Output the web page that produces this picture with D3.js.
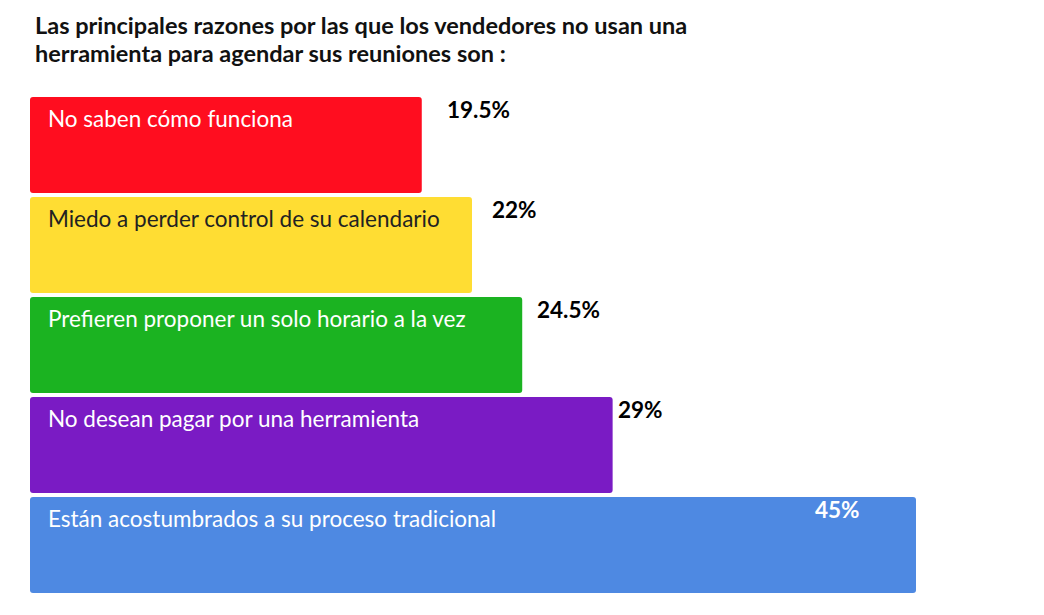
<!DOCTYPE html>
<html>
<head>
<meta charset="utf-8">
<script src="https://cdn.jsdelivr.net/npm/d3@7"></script>
<style>
  body { margin: 0; background: #fff; }
  svg text { font-family: Lato, "Open Sans", sans-serif; }
</style>
</head>
<body>
<div id="main"></div>
<script>
// data
const titleLines = [
  'Las principales razones por las que los vendedores no usan una',
  'herramienta para agendar sus reuniones son :'
];
const categories = [
  'No saben cómo funciona',
  'Miedo a perder control de su calendario',
  'Prefieren proponer un solo horario a la vez',
  'No desean pagar por una herramienta',
  'Están acostumbrados a su proceso tradicional'
];
const values = [19.5, 22, 24.5, 29, 45];
const valueLabels = ['19.5%', '22%', '24.5%', '29%', '45%'];
const colors = ['#ff0d1f', '#ffdd33', '#1bb321', '#7a1bc4', '#4e89e2'];

!(function () {
  'use strict';

  const width = 1044, height = 615;

  const svg = d3.select('#main')
    .append('svg')
    .attr('width', width)
    .attr('height', height);

  // title
  svg.append('g')
    .attr('class', 'title')
    .selectAll('text')
    .data(titleLines)
    .enter()
    .append('text')
    .attr('x', 35)
    .attr('y', (d, i) => 34 + i * 28)
    .attr('font-size', 23.5)
    .attr('font-weight', 700)
    .attr('fill', '#111')
    .text(d => d);

  // scales (the longest bar is capped at the chart edge)
  const xScale = d3.scaleLinear()
    .domain([0, 44.1])
    .range([30, 916])
    .clamp(true);

  const yScale = d3.scaleBand()
    .domain(categories)
    .range([97, 593])
    .paddingInner(0.04)
    .paddingOuter(0);

  // value labels follow their own position scale
  const labelScale = d3.scaleLinear()
    .domain([0, 45])
    .range([96, 906]);

  const rows = svg.append('g')
    .attr('class', 'bars')
    .selectAll('g')
    .data(categories)
    .enter()
    .append('g')
    .attr('transform', d => 'translate(0,' + yScale(d) + ')');

  rows.append('rect')
    .attr('x', xScale(0))
    .attr('y', 0)
    .attr('width', (d, i) => xScale(values[i]) - xScale(0))
    .attr('height', yScale.bandwidth())
    .attr('rx', 3)
    .attr('fill', (d, i) => colors[i]);

  rows.append('text')
    .attr('x', xScale(0) + 18)
    .attr('y', 30)
    .attr('font-size', 22.5)
    .attr('fill', (d, i) => i === 1 ? '#222' : '#fff')
    .text(d => d);

  const outside = i => labelScale(values[i]) > xScale(values[i]);

  rows.append('text')
    .attr('x', (d, i) => outside(i) ? labelScale(values[i]) : xScale(values[i]) - 101)
    .attr('y', 21)
    .attr('font-size', 22.5)
    .attr('font-weight', 700)
    .attr('fill', (d, i) => outside(i) ? '#000' : '#fff')
    .text((d, i) => valueLabels[i]);
}());
</script>
</body>
</html>
